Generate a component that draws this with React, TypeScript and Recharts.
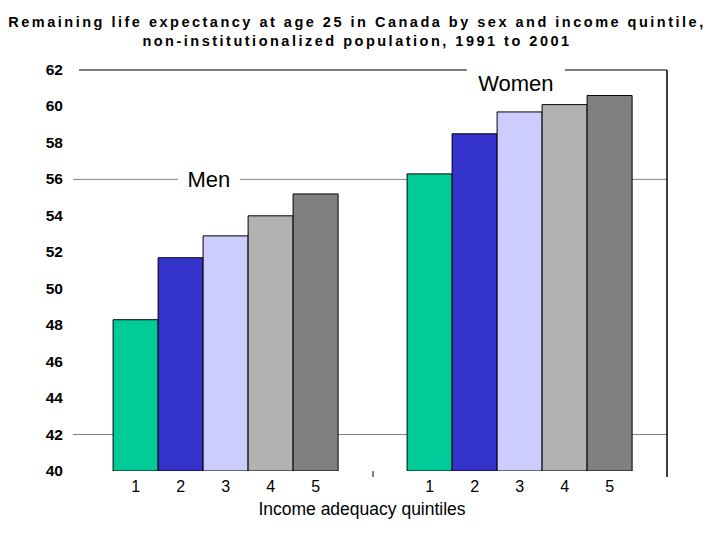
import React from 'react'
import { BarChart, Bar, XAxis, YAxis, CartesianGrid, ReferenceLine, LabelList } from 'recharts'

const groups = ['Men', 'Women']
const quintiles = ['1', '2', '3', '4', '5']
const menValues = [48.3, 51.7, 52.9, 54.0, 55.2]
const womenValues = [56.3, 58.5, 59.7, 60.1, 60.6]
const yTicks = [40, 42, 44, 46, 48, 50, 52, 54, 56, 58, 60, 62]
const gridValues = [42, 56]
const colors = ['#00CC99', '#3333CC', '#CCCCFF', '#B2B2B2', '#808080']

const data = groups.map((g, i) => {
  const row: any = { sex: g }
  const vals = i === 0 ? menValues : womenValues
  quintiles.forEach((q, j) => {
    row['q' + q] = vals[j]
  })
  return row
})

const FONT = 'Arial, "Liberation Sans", sans-serif'

// Tick des ordonnées en gras, petit trait à gauche des lignes de grille
const YTick = (props: any) => {
  const { x, y, payload } = props
  return (
    <g>
      <text x={x} y={y} dy={5} textAnchor="end" fontFamily={FONT} fontWeight="bold" fontSize={15.5} fill="#000">
        {payload.value}
      </text>
      {gridValues.includes(payload.value) && (
        <line x1={x + 10} y1={y} x2={x + 16} y2={y} stroke="#808080" strokeWidth={1} />
      )}
    </g>
  )
}

// Numéro du quintile sous chaque barre
const quintileLabel = (q: string) => (props: any) => {
  const { x, y, width, height } = props
  return (
    <text x={x + width / 2} y={y + height + 21} textAnchor="middle" fontFamily={FONT} fontSize={16} fill="#000">
      {q}
    </text>
  )
}

const groupLabel = (text: string, frac: number, padW: number, dy: number) => (props: any) => {
  const vb = props.viewBox || {}
  const cx = vb.x + vb.width * frac
  const cy = vb.y + dy
  return (
    <g>
      <rect x={cx - padW / 2} y={cy - 14} width={padW} height={28} fill="#fff" />
      <text x={cx} y={cy + 8} textAnchor="middle" fontFamily={FONT} fontSize={22} fill="#000">
        {text}
      </text>
    </g>
  )
}

const gridCoords = (args: any) => {
  const scale = args?.yAxis?.scale
  if (typeof scale === 'function') return gridValues.map((v) => scale(v))
  if (scale && typeof scale.map === 'function') return gridValues.map((v) => scale.map(v))
  return []
}

export default function App() {
  return (
    <div style={{ position: 'relative', width: 720, height: 540, background: '#fff' }}>
      <style>{'body{margin:0}'}</style>
      <div
        style={{
          position: 'absolute',
          top: 13,
          left: 0,
          width: 714,
          textAlign: 'center',
          fontFamily: FONT,
          fontWeight: 'bold',
          fontSize: 14.5,
          letterSpacing: 2.5,
          lineHeight: '19px',
          color: '#000',
          whiteSpace: 'nowrap',
        }}
      >
        Remaining life expectancy at age 25 in Canada by sex and income quintile,
        <br />
        non-institutionalized population, 1991 to 2001
      </div>
      <BarChart
        width={720}
        height={540}
        data={data}
        margin={{ top: 70, right: 53, bottom: 0, left: 0 }}
        barCategoryGap="11.6%"
        barGap={0}
      >
        <CartesianGrid vertical={false} horizontalCoordinatesGenerator={gridCoords} stroke="#808080" strokeWidth={1} />
        <XAxis
          dataKey="sex"
          tick={false}
          axisLine={false}
          tickLine={false}
          height={69}
          label={(props: any) => {
            const vb = props.viewBox || {}
            return (
              <text x={vb.x + vb.width / 2 - 11} y={vb.y + 44} textAnchor="middle" fontFamily={FONT} fontSize={17.5} fill="#000">
                Income adequacy quintiles
              </text>
            )
          }}
        />
        <YAxis
          width={79}
          domain={[40, 62]}
          ticks={yTicks}
          interval={0}
          axisLine={false}
          tickLine={false}
          tickSize={0}
          tickMargin={16}
          tick={<YTick />}
          allowDataOverflow
        />
        {quintiles.map((q, j) => (
          <Bar key={q} dataKey={'q' + q} fill={colors[j]} stroke="#000" strokeWidth={1} isAnimationActive={false}>
            <LabelList content={quintileLabel(q)} />
          </Bar>
        ))}
        <ReferenceLine y={62} stroke="#000" strokeWidth={1} label={groupLabel('Women', 0.743, 98, 13)} />
        <ReferenceLine y={56} stroke="none" label={groupLabel('Men', 0.221, 62, 0)} />
        <ReferenceLine
          x="Women"
          position="end"
          shape={(p: any) => (
            <line x1={p.x1} y1={Math.min(p.y1, p.y2)} x2={p.x1} y2={Math.max(p.y1, p.y2) + 6} stroke="#000" strokeWidth={1.5} />
          )}
        />
        <ReferenceLine
          x="Women"
          position="start"
          shape={(p: any) => (
            <line x1={p.x1} y1={Math.max(p.y1, p.y2)} x2={p.x1} y2={Math.max(p.y1, p.y2) + 6} stroke="#000" strokeWidth={1} />
          )}
        />
      </BarChart>
    </div>
  )
}
